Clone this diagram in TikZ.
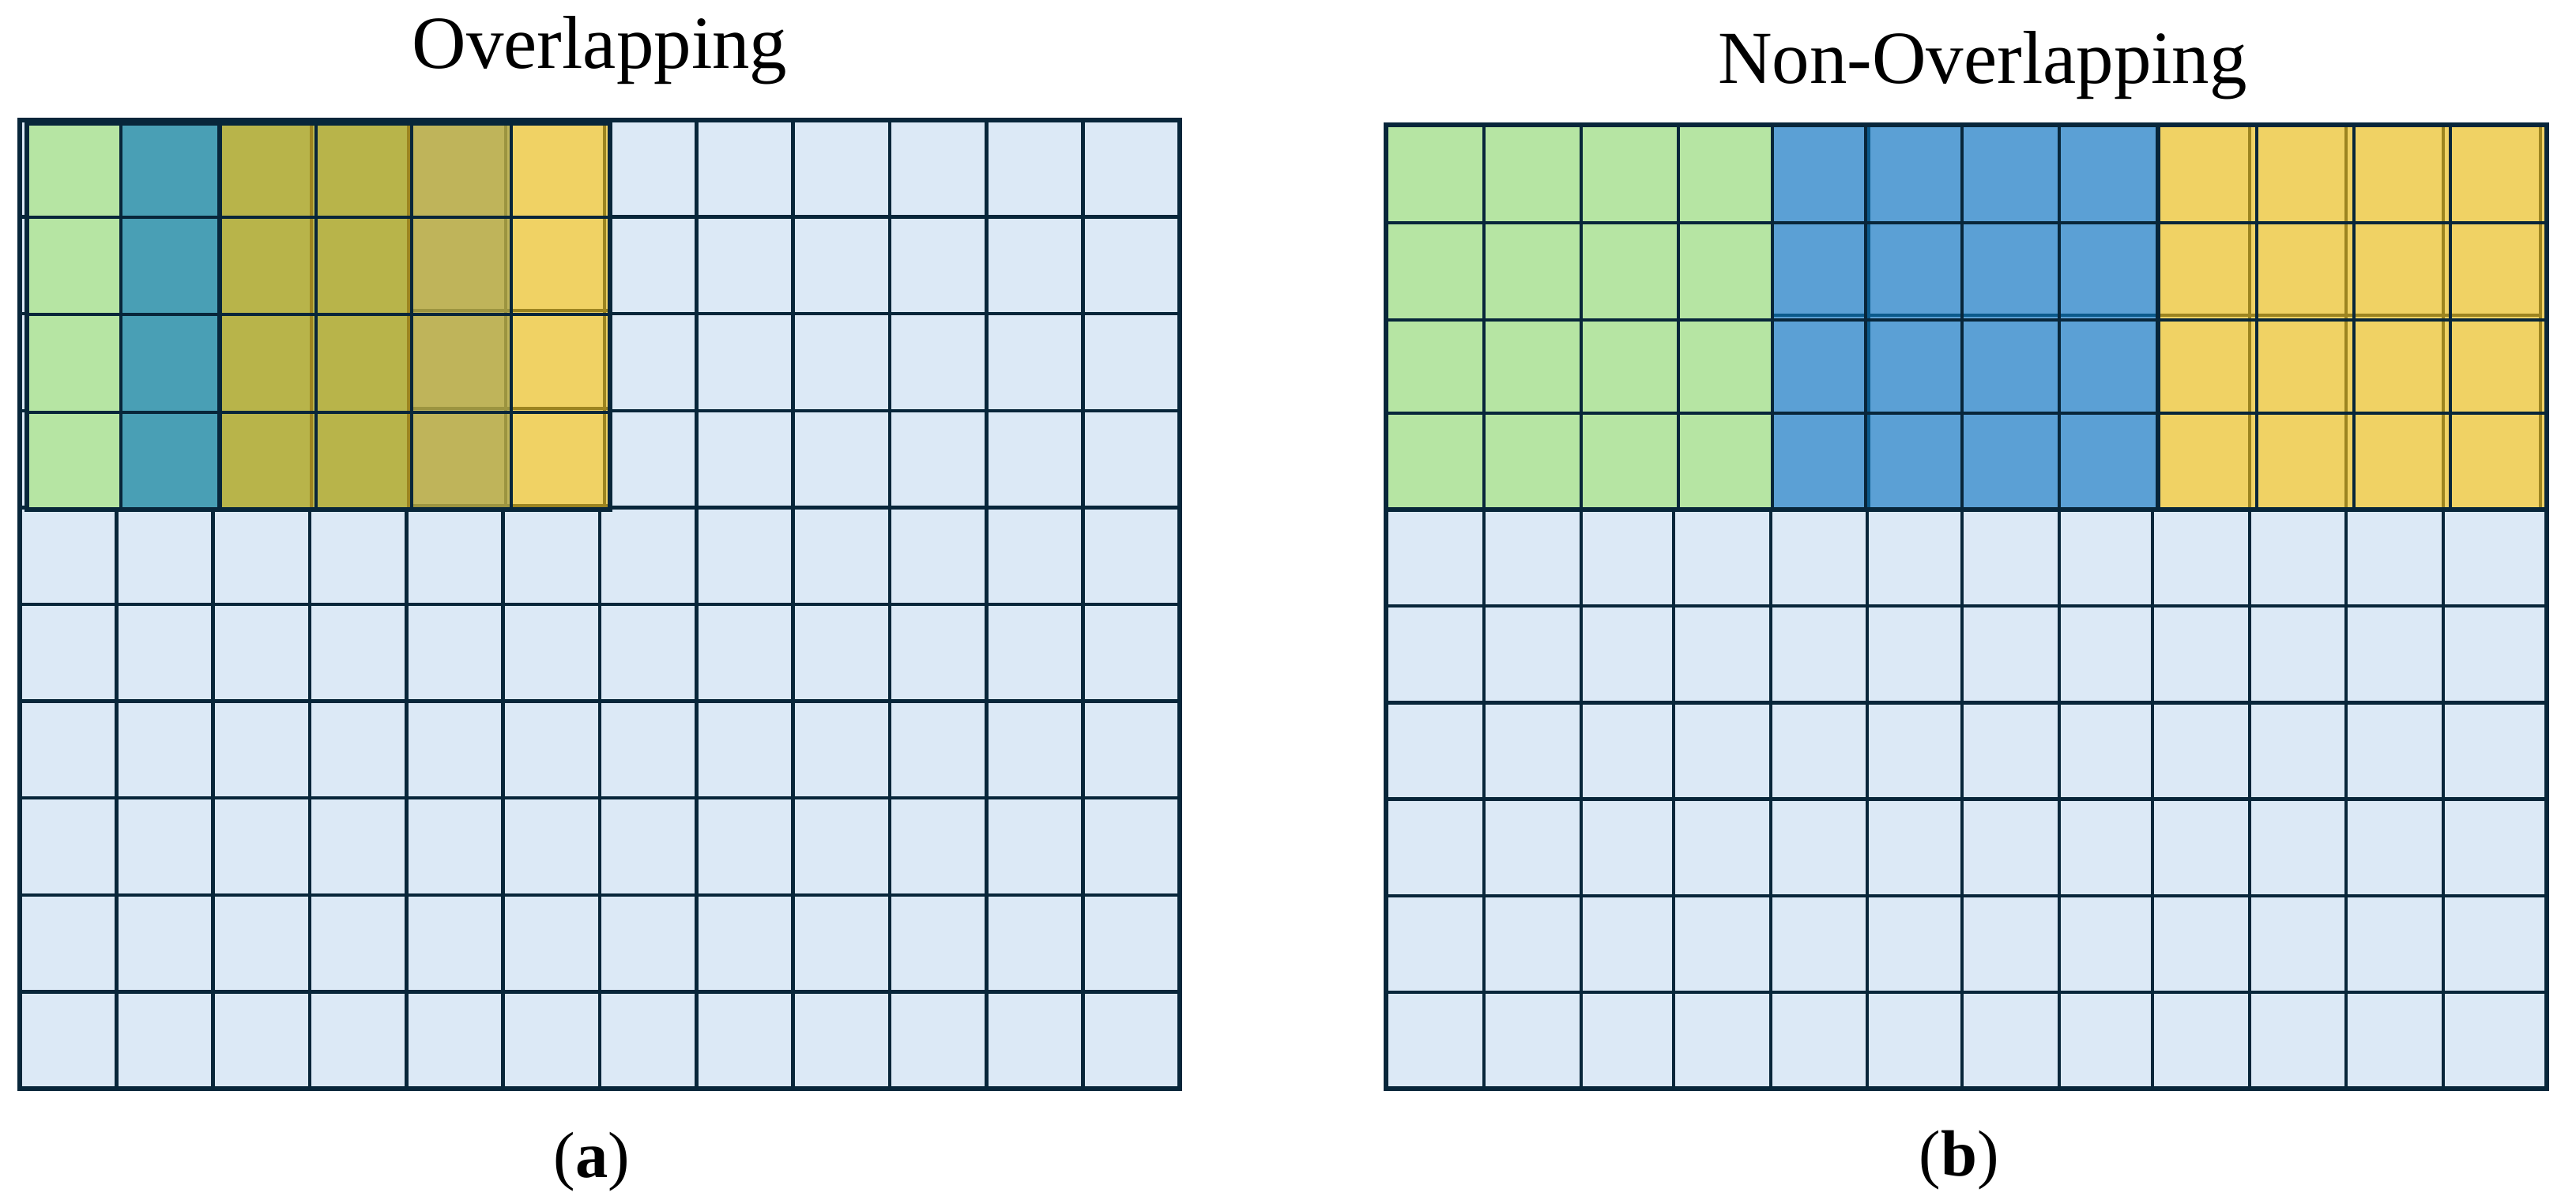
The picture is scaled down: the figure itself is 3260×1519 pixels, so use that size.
\documentclass[tikz,border=0pt]{standalone}
\usepackage{fontspec}
\setmainfont{Liberation Serif}
\definecolor{navy}{HTML}{08263A}
\definecolor{cellbg}{HTML}{DCE9F6}
\definecolor{winG}{HTML}{B6E5A3}
\definecolor{winB}{HTML}{5BA0D5}
\definecolor{winY}{HTML}{F0D264}
\definecolor{ovGB}{HTML}{499FB5}
\definecolor{ovGBY}{HTML}{B8B44A}
\definecolor{ovBY}{HTML}{BFB45A}
\definecolor{goldline}{HTML}{9C8420}
\definecolor{goldlight}{HTML}{9C9440}
\definecolor{bluedark}{HTML}{0B5A8C}
\tikzset{
  gridline/.style={draw=navy, line width=1.3pt},
  borderline/.style={draw=navy, line width=1.8pt},
  ghostline/.style={line width=1.2pt},
  titletext/.style={font=\fontsize{27}{32}\selectfont, anchor=base, inner sep=0pt},
  captext/.style={font=\fontsize{23.5}{28}\selectfont, anchor=base, inner sep=0pt}
}
\begin{document}
\begin{tikzpicture}[x=0.01cm,y=-0.01cm]
\useasboundingbox (0,0) rectangle (3260,1519);

% ================= LEFT: Overlapping =================
\fill[cellbg] (25,152) rectangle (1493,1378);
\foreach \i in {1,...,11} \draw[gridline] ({25+\i*122.33},152) -- ({25+\i*122.33},1378);
\foreach \j in {1,...,9} \draw[gridline] (25,{152+\j*122.6}) -- (1493,{152+\j*122.6});
\draw[borderline] (25,152) rectangle (1493,1378);

% overlay columns
\fill[winG]  (34,156) rectangle (153,645);
\fill[ovGB]  (153,156) rectangle (279,645);
\fill[ovGBY] (279,156) rectangle (521,645);
\fill[ovBY]  (521,156) rectangle (647,645);
\fill[winY]  (647,156) rectangle (772,645);
% lines showing through the yellow window
\draw[ghostline, goldline] (394,156) -- (394,645);
\draw[ghostline, goldline] (517,156) -- (517,645);
\draw[ghostline, goldlight] (640,156) -- (640,645);
\draw[ghostline, goldline] (765,156) -- (765,645);
\draw[ghostline, goldlight] (521,393) -- (647,393);
\draw[ghostline, goldlight] (521,517) -- (647,517);
\draw[ghostline, goldlight] (521,640) -- (647,640);
\draw[ghostline, goldline] (647,393) -- (770,393);
\draw[ghostline, goldline] (647,517) -- (770,517);
\draw[ghostline, goldline] (647,640) -- (770,640);
% overlay navy lines
\foreach \x in {153,400,521,647} \draw[gridline] (\x,156) -- (\x,645);
\draw[navy, line width=1.9pt] (278,156) -- (278,645);
\foreach \y in {275,398,522} \draw[gridline] (34,\y) -- (772,\y);
\draw[borderline] (34,156) rectangle (772,645);

\node[titletext] (titleA) at (759,87) {Overlapping};
\node[captext] (capA) at (749,1490) {(\textbf{a})};

% ================= RIGHT: Non-Overlapping =================
\fill[cellbg] (1754,158) rectangle (3223,1378);
\fill[winG] (1754,158) rectangle (2243,645);
\fill[winB] (2243,158) rectangle (2731,645);
\fill[winY] (2731,158) rectangle (3223,645);
% lines showing through the windows
\draw[ghostline, bluedark] (2243,399) -- (2731,399);
\draw[ghostline, bluedark] (2365,158) -- (2365,645);
\draw[ghostline, goldline] (2731,399) -- (3215,399);
\foreach \x in {2847,2969,3092,3215} \draw[ghostline, goldline] (\x,158) -- (\x,645);
% upper (window) lines
\foreach \x in {1878,2001,2124,2243,2361,2483,2606,2856,2979,3101}
  \draw[gridline] (\x,158) -- (\x,645);
\draw[navy, line width=1.9pt] (2731,158) -- (2731,645);
\foreach \y in {282,405,523} \draw[gridline] (1754,\y) -- (3223,\y);
% lower region lines
\foreach \x in {1878,2001,2118,2241,2363,2483,2606,2724,2847,2969,3092}
  \draw[gridline] (\x,645) -- (\x,1378);
\foreach \j in {1,...,5} \draw[gridline] (1754,{645+\j*122.2}) -- (3223,{645+\j*122.2});
\draw[borderline] (1754,645) -- (3223,645);
\draw[borderline] (1754,158) rectangle (3223,1378);

\node[titletext] (titleB) at (2509,106) {Non-Overlapping};
\node[captext] (capB) at (2479,1488) {(\textbf{b})};
\end{tikzpicture}
\end{document}
